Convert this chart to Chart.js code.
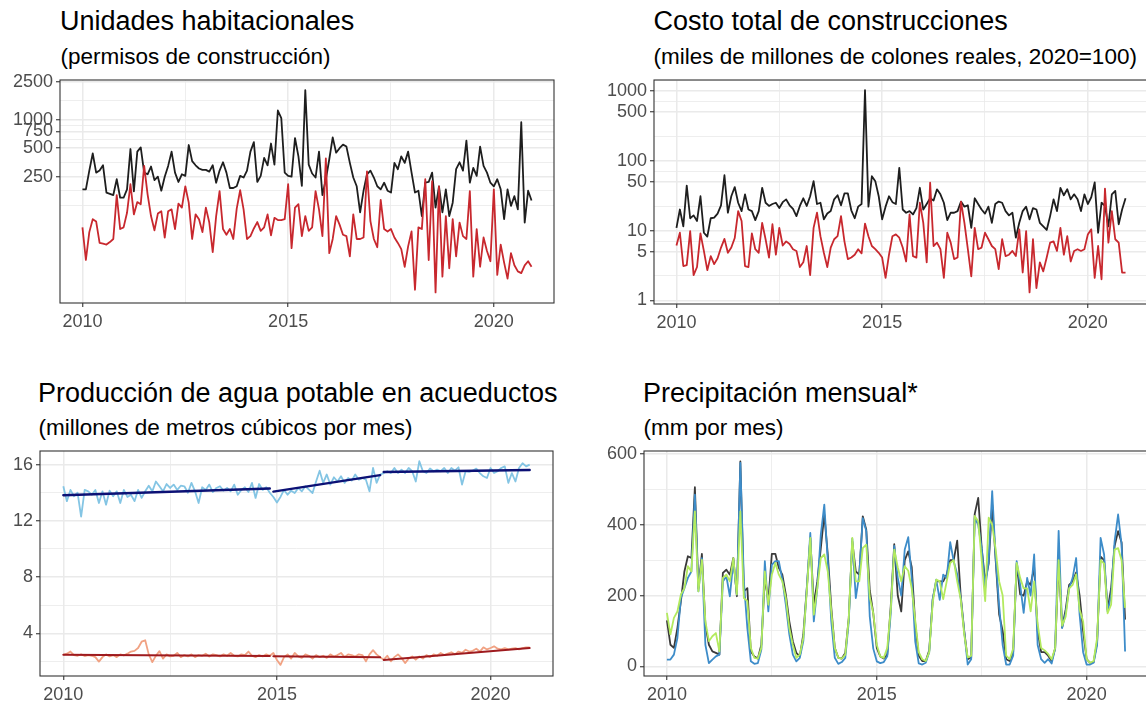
<!DOCTYPE html>
<html lang="es">
<head>
<meta charset="utf-8">
<title>Indicadores mensuales 2010–2020</title>
<script src="https://cdn.jsdelivr.net/npm/chart.js@4.4.1/dist/chart.umd.min.js"></script>
<style>
  html, body { margin: 0; padding: 0; background: #fff; }
  body { position: relative; width: 1146px; height: 702px; overflow: hidden;
         font-family: "Liberation Sans", Arial, sans-serif; }
  .titulo { position: absolute; font-size: 27px; line-height: 1; color: #000; white-space: nowrap; }
  .sub { position: absolute; font-size: 22.5px; line-height: 1; color: #000; white-space: nowrap; }
  canvas { position: absolute; }
</style>
</head>
<body>
<div class="titulo" style="left:60px;top:8px">Unidades habitacionales</div>
<div class="sub" style="left:60.5px;top:46px">(permisos de construcción)</div>
<div class="titulo" style="left:653.5px;top:8px">Costo total de construcciones</div>
<div class="sub" style="left:653.5px;top:46px">(miles de millones de colones reales, 2020=100)</div>
<div class="titulo" style="left:38px;top:380px">Producción de agua potable en acueductos</div>
<div class="sub" style="left:38.5px;top:417px">(millones de metros cúbicos por mes)</div>
<div class="titulo" style="left:643px;top:380px">Precipitación mensual*</div>
<div class="sub" style="left:643.5px;top:417px">(mm por mes)</div>

<canvas id="unidades" width="558" height="271" style="left:0px;top:66px"></canvas>
<canvas id="costo" width="558" height="272" style="left:594px;top:66px"></canvas>
<canvas id="agua" width="577" height="273" style="left:-20px;top:437px"></canvas>
<canvas id="lluvia" width="568" height="273" style="left:584px;top:437px"></canvas>

<script>
// Serie mensual: enero 2010 a diciembre 2020
const anioInicial = 2010;
const totalMeses = 132;
const ticksAnios = [2010, 2015, 2020];

// Unidades habitacionales (permisos de construcción)
const ticksUnidades = [250, 500, 750, 1000, 2500];
const unidadesTotal = [
  184,184,290,440,276,290,330,170,165,160,235,150,
  150,184,490,175,460,510,276,265,320,230,250,178,
  250,325,460,276,220,265,255,540,365,330,305,295,
  295,283,330,216,290,355,276,190,190,198,255,245,
  290,460,580,220,255,395,330,560,335,1250,1040,276,
  255,250,640,410,200,2050,335,270,245,460,160,235,
  382,650,448,500,545,520,350,245,198,105,178,265,
  290,245,198,184,216,178,170,350,300,410,350,460,
  276,170,178,96,216,220,276,118,198,105,184,96,
  133,300,355,290,600,216,310,255,520,325,276,216,
  198,235,184,89,184,123,156,113,940,82,178,140
];
const unidadesParcial = [
  73,33,65,89,84,50,49,48,51,55,160,70,
  73,104,208,100,135,128,325,163,96,68,102,108,
  57,108,113,70,130,118,198,133,55,100,89,65,
  118,82,40,96,176,70,61,70,55,115,180,113,
  55,59,71,83,67,73,100,60,92,87,87,89,
  208,44,118,128,59,96,67,73,176,113,59,390,
  39,55,96,78,61,59,36,100,55,55,57,285,
  85,55,45,142,70,66,70,57,50,43,28,46,
  66,16,73,70,235,33,225,15,198,22,96,27,
  89,36,82,59,55,176,22,70,28,57,41,32,
  184,23,48,31,21,39,29,25,24,29,32,28
];

// Costo total de construcciones (miles de millones de colones reales)
const ticksCosto = [1, 5, 10, 50, 100, 500, 1000];
const costoTotal = [
  10.9,20,11.5,44,15,16.5,13.7,31,9.3,8.2,15,15.3,
  17.5,23,62,18,31,42,25,19,33,20,19,14.1,
  19,41,25,22.5,24,25,21,25.5,28,23,20.5,16.1,
  22.5,29,22.5,31,51,24,25,14.5,17.5,19,28,32,
  23,34,34,19.5,15,22,24,1030,22,60,51,31,
  14.5,22,31,25.5,24,79,20,18,19,17,21,41,
  20,24,29,27,39,33,25,14.1,18,18,19,26,
  22,23,10.9,29,24,20,17.5,22,12.9,24,26,25,
  19,16.5,18,7.9,12.9,19,22,14.5,21,20,12.9,11.5,
  10.2,16.1,28,19,41,32,39,28,33,28,19,33,
  24,30,49,9.3,25,22.5,11.5,33,37,12.3,20,29
];
const costoParcial = [
  6.1,9.3,3.1,3.2,9.8,2.3,3.0,9.1,5.1,2.7,4.3,3.3,
  4.0,5.7,7.6,4.8,5.7,7.8,19,13.7,3.1,3.0,9.1,5.4,
  4.8,12.9,7.5,4.1,12.3,4.5,10.9,6.1,7.0,6.4,5.4,5.1,
  3.0,3.5,6.0,2.3,10.9,18,8.3,4.8,3.0,5.7,7.5,8.3,
  16.1,7.0,3.9,4.1,4.5,5.4,4.7,12.6,8.3,6.0,5.4,4.8,
  4.1,2.1,4.5,8.3,8.8,7.9,5.7,3.6,17,4.3,4.1,25,
  12.9,3.5,48.5,6.0,6.7,5.4,2.1,9.3,6.7,3.9,4.1,26,
  12.9,5.4,2.2,10.9,5.4,5.7,9.3,7.5,6.0,5.4,2.8,7.5,
  4.3,4.5,5.1,4.3,10.4,2.5,9.8,1.3,7.5,1.5,3.5,2.6,
  4.1,6.7,7.0,5.1,10.9,4.5,8.3,3.6,5.1,5.4,5.1,5.4,
  8.8,10.4,2.1,6.0,2.0,40,6.7,19,7.5,6.7,2.5,2.5
];

// Producción de agua potable (millones de m3 por mes)
const ticksAgua = [4, 8, 12, 16];
const aguaMayor = [
  14.46,13.4,14.2,13.75,14.0,12.3,14.2,14.1,13.86,14.2,13.27,14.1,
  13.15,14.15,13.75,14.1,13.27,14.2,13.7,13.86,13.4,14.2,13.63,14.1,
  14.5,14.1,14.8,14.46,14.1,14.62,14.34,14.58,14.2,14.5,14.46,14.0,
  14.7,14.1,13.27,14.39,14.2,14.58,14.05,14.34,14.46,14.15,14.34,14.1,
  14.58,13.86,14.2,14.39,14.05,14.7,13.63,14.62,14.2,14.39,14.0,13.7,
  13.3,13.7,14.2,13.86,14.15,13.98,14.34,14.1,14.46,14.22,13.98,14.8,
  15.57,14.7,15.3,14.58,15.1,14.8,15.17,14.7,15.05,14.86,15.3,14.93,
  15.05,14.93,14.1,15.76,14.7,15.3,15.4,15.53,15.4,15.76,15.4,15.64,
  15.4,15.76,15.53,14.8,16.24,15.53,15.4,15.72,15.53,15.64,15.53,15.76,
  15.4,15.76,15.57,15.81,14.58,15.53,15.48,15.57,15.72,15.4,15.17,15.05,
  15.76,15.4,15.53,15.76,15.88,14.7,15.4,14.8,15.76,16.1,15.88,16.0
];
const aguaMenor = [
  2.46,2.55,2.7,2.45,2.4,2.5,2.38,2.45,2.4,2.3,1.98,2.3,
  2.5,2.35,2.45,2.3,2.5,2.42,2.55,2.7,2.75,2.95,3.4,3.5,
  2.5,1.95,2.4,2.73,2.2,2.5,2.35,2.4,2.6,2.3,2.45,2.35,
  2.5,2.3,2.45,2.4,2.55,2.35,2.5,2.45,2.35,2.5,2.4,2.6,
  2.4,2.35,2.5,2.45,2.7,2.4,2.3,2.45,2.35,2.5,2.4,2.6,
  2.1,1.75,2.3,2.5,2.2,2.6,2.35,2.25,2.5,2.4,2.2,2.45,
  2.3,2.4,2.25,2.5,2.35,2.45,2.6,2.3,2.5,2.45,2.35,2.5,
  2.45,2.0,2.5,2.8,2.5,2.3,2.12,2.4,2.0,2.3,2.5,2.25,
  1.88,2.2,2.35,2.12,2.35,2.2,2.45,2.3,2.5,2.4,2.6,2.45,
  2.55,2.65,2.5,2.7,2.6,2.83,2.7,2.75,2.9,2.7,3.0,2.85,
  2.95,3.07,2.9,2.85,2.95,2.85,2.9,2.95,2.85,2.95,3.0,3.0
];
// Tendencias lineales por tramo (índice de mes inicial y final)
const tramoInicio = [0, 59, 90];
const tramoFin = [58, 89, 131];
const tendMayorDesde = [13.82, 14.08, 15.48];
const tendMayorHasta = [14.30, 15.25, 15.62];
const tendMenorDesde = [2.48, 2.37, 2.10];
const tendMenorHasta = [2.38, 2.30, 2.95];

// Precipitación mensual (mm por mes)
const ticksLluvia = [0, 200, 400, 600];
const lluviaGris = [
  130,61,52,108,184,268,311,306,506,221,318,118,
  61,42,38,33,264,273,259,306,198,579,212,221,
  42,28,22,61,250,184,318,318,278,259,203,127,
  71,38,28,90,221,363,174,240,334,429,316,165,
  52,24,22,38,137,353,268,259,424,386,215,150,
  52,28,22,33,170,345,200,155,300,325,280,120,
  30,15,15,45,190,240,240,240,260,300,300,355,
  200,100,20,25,430,476,334,240,290,457,300,146,
  100,20,15,40,290,203,200,240,230,280,100,40,
  40,30,15,50,300,110,160,230,240,265,200,100,
  20,10,12,70,310,300,160,220,340,382,350,132
];
const lluviaAzul = [
  19,19,33,80,193,221,250,268,485,212,306,61,
  9,19,28,33,240,254,198,297,203,575,240,108,
  14,7,9,47,297,155,287,297,297,245,174,90,
  33,14,24,71,221,377,127,221,372,457,297,127,
  24,7,12,24,127,361,193,259,419,382,140,50,
  14,9,12,28,150,340,250,200,330,365,250,70,
  8,5,10,40,190,245,188,259,250,351,297,260,
  193,99,5,20,420,400,334,220,300,495,306,170,
  60,5,5,30,297,230,151,250,200,316,60,20,
  10,20,8,50,383,108,150,220,250,306,146,40,
  5,5,10,60,363,316,155,200,353,429,344,42
];
const lluviaVerde = [
  151,90,137,155,203,221,283,268,438,212,301,127,
  71,85,94,42,250,259,240,306,203,438,193,184,
  52,24,22,52,268,174,259,292,259,240,193,108,
  61,24,33,80,212,363,146,221,306,316,268,155,
  52,24,22,33,137,363,240,240,334,344,195,150,
  61,28,24,52,160,330,280,240,283,270,220,130,
  40,20,15,40,180,245,240,190,240,292,300,240,
  190,90,25,30,425,410,300,184,420,400,330,240,
  200,30,20,50,292,250,220,220,155,240,120,52,
  45,35,20,52,300,115,140,220,230,260,160,127,
  20,10,15,80,300,290,150,174,330,334,300,165
];

const FUENTE = '"Liberation Sans", Arial, sans-serif';
const fechas = Array.from({ length: totalMeses }, (_, i) => anioInicial + i / 12);
// Rango del eje x con un 5 % de margen a cada lado
const spanX = fechas[totalMeses - 1] - fechas[0];
const X_MIN = fechas[0] - 0.05 * spanX;
const X_MAX = fechas[totalMeses - 1] + 0.05 * spanX;

// Líneas de cuadrícula menores a medio camino entre las mayores
function menores(mayores, min, max, log) {
  const t = log ? mayores.map(Math.log10) : mayores.slice();
  const n = t.length;
  const ext = [t[0] - (t[1] - t[0]), ...t, t[n - 1] + (t[n - 1] - t[n - 2])];
  const out = [];
  for (let k = 0; k < ext.length - 1; k++) out.push(ext[k], (ext[k] + ext[k + 1]) / 2);
  out.push(ext[ext.length - 1]);
  return out.map(v => log ? Math.pow(10, v) : v)
    .filter(v => v >= min && v <= max && !mayores.some(m => Math.abs(m - v) < 1e-6 * Math.max(1, m)));
}
const esMayor = (lista, v) => lista.some(m => Math.abs(m - v) < 1e-6 * Math.max(1, m));

function rejilla(mayores) {
  return {
    color: '#EAEAEA',
    lineWidth: ctx => esMayor(mayores, ctx.tick.value) ? 1.5 : 0.8,
    drawTicks: true,
    tickLength: 4,
    tickWidth: 1.1,
    tickColor: ctx => esMayor(mayores, ctx.tick.value) ? '#333333' : 'rgba(0,0,0,0)'
  };
}

function ejeX() {
  return {
    type: 'linear', min: X_MIN, max: X_MAX,
    afterBuildTicks: s => {
      const vals = ticksAnios.filter(v => v >= X_MIN && v <= X_MAX)
        .concat(menores(ticksAnios, X_MIN, X_MAX, false)).sort((a, b) => a - b);
      s.ticks = vals.map(v => ({ value: v }));
    },
    afterFit: s => { s.height = 34; },
    ticks: {
      autoSkip: false, maxRotation: 0, padding: 4, color: '#4D4D4D',
      font: { family: FUENTE, size: 18 },
      callback: v => esMayor(ticksAnios, v) ? String(v) : ''
    },
    grid: rejilla(ticksAnios),
    border: { display: false }
  };
}

function ejeY(tipo, min, max, mayores) {
  const log = tipo === 'logarithmic';
  return {
    type: tipo, min, max,
    afterBuildTicks: s => {
      const vals = mayores.filter(v => v >= min && v <= max)
        .concat(menores(mayores, min, max, log)).sort((a, b) => a - b);
      s.ticks = vals.map(v => ({ value: v }));
    },
    afterFit: s => { s.width = 60; },
    ticks: {
      autoSkip: false, padding: 3, color: '#4D4D4D',
      font: { family: FUENTE, size: 18 },
      callback: v => esMayor(mayores, v) ? String(v) : ''
    },
    grid: rejilla(mayores),
    border: { display: false }
  };
}

// Marco del panel por encima de los datos
const marco = {
  id: 'marco',
  afterDraw(chart) {
    const { ctx, chartArea: a } = chart;
    ctx.save();
    ctx.strokeStyle = '#333333';
    ctx.lineWidth = 1.1;
    ctx.strokeRect(a.left, a.top, a.right - a.left, a.bottom - a.top);
    ctx.restore();
  }
};

function serie(valores, color, ancho, orden) {
  return {
    data: valores.map((y, i) => ({ x: fechas[i], y })),
    borderColor: color, borderWidth: ancho, pointRadius: 0,
    fill: false, tension: 0, borderJoinStyle: 'round', order: orden
  };
}

function tramos(desde, hasta, color, ancho) {
  return tramoInicio.map((ini, k) => ({
    data: [{ x: fechas[ini], y: desde[k] }, { x: fechas[tramoFin[k]], y: hasta[k] }],
    borderColor: color, borderWidth: ancho, pointRadius: 0,
    fill: false, tension: 0, borderCapStyle: 'round', order: 0
  }));
}

function panel(id, datasets, yEje) {
  return new Chart(document.getElementById(id), {
    type: 'line',
    data: { datasets },
    options: {
      responsive: false, animation: false, devicePixelRatio: 1, events: [],
      layout: { padding: { top: 14, right: 4, bottom: 0, left: 0 } },
      plugins: { legend: { display: false }, tooltip: { enabled: false } },
      scales: { x: ejeX(), y: yEje }
    },
    plugins: [marco]
  });
}

panel('unidades', [
  serie(unidadesParcial, '#C8282E', 1.8, 0),
  serie(unidadesTotal, '#1E1E1E', 1.8, 1)
], ejeY('logarithmic', 11.6, 2624, ticksUnidades));

panel('costo', [
  serie(costoParcial, '#C8282E', 1.8, 0),
  serie(costoTotal, '#1E1E1E', 1.8, 1)
], ejeY('logarithmic', 0.885, 1438, ticksCosto));

panel('agua', [
  ...tramos(tendMayorDesde, tendMayorHasta, '#0C1175', 2.4),
  ...tramos(tendMenorDesde, tendMenorHasta, '#9E1A1E', 2.0),
  serie(aguaMayor, '#84C5E4', 1.8, 1),
  serie(aguaMenor, '#F1A283', 1.8, 1)
], ejeY('linear', 0.96, 16.97, ticksAgua));

panel('lluvia', [
  serie(lluviaVerde, '#B3EA5E', 1.8, 0),
  serie(lluviaAzul, '#3D8CC9', 1.8, 1),
  serie(lluviaGris, '#3A3A3A', 1.8, 2)
], ejeY('linear', -27.4, 608.5, ticksLluvia));
</script>
</body>
</html>
